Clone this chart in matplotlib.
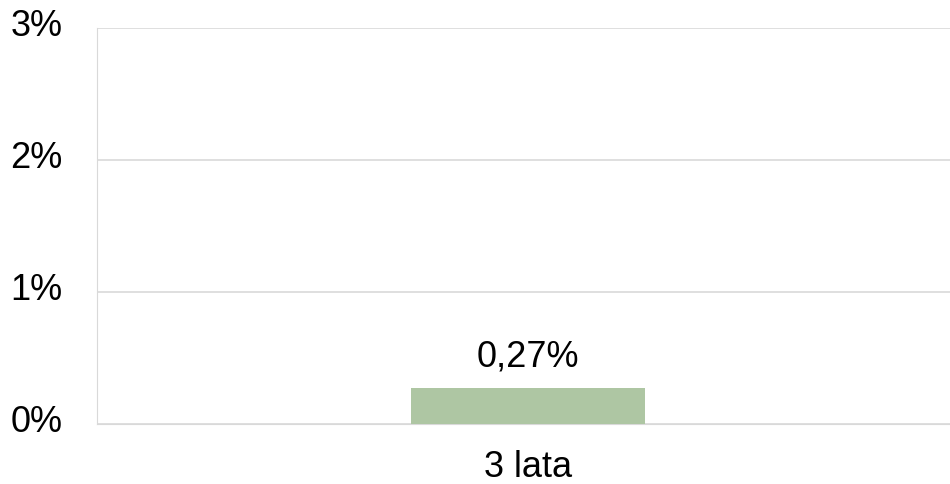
import matplotlib
matplotlib.use("Agg")
import matplotlib.pyplot as plt
import matplotlib.transforms as mtransforms
from matplotlib.ticker import FuncFormatter

categories = ["3 lata"]
values = [0.27]
labels = ["0,27%"]
yticks = [0, 1, 2, 3]

plt.rcParams['font.family'] = ['Liberation Sans', 'DejaVu Sans']

fig = plt.figure(figsize=(9.5, 4.84), dpi=100)
# plot area runs slightly past the right edge of the picture
ax = fig.add_axes([0.1021, 0.124, 0.9074, 0.818])

bars = ax.bar(range(len(categories)), values, width=0.2715, color="#AEC6A3", zorder=3)
ax.bar_label(bars, labels=labels, padding=10, fontsize=26)

ax.set_xlim(-0.5, 0.5)
ax.set_ylim(0, 3)
ax.set_yticks(yticks)
ax.yaxis.set_major_formatter(FuncFormatter(lambda v, p: f"{v:.0f}%"))
ax.set_xticks(range(len(categories)))
ax.set_xticklabels(categories)
ax.tick_params(axis="both", length=0, labelsize=26)
ax.tick_params(axis="y", pad=25)
ax.tick_params(axis="x", pad=19)
# y labels sit a little above their gridlines
shift = mtransforms.ScaledTranslation(0, 4 / 72, fig.dpi_scale_trans)
for lab in ax.get_yticklabels():
    lab.set_transform(lab.get_transform() + shift)
ax.grid(axis="y", color="#D9D9D9", linewidth=1.2, zorder=0)
for s in ["top", "right"]:
    ax.spines[s].set_visible(False)
ax.spines["left"].set_color("#D9D9D9")
ax.spines["bottom"].set_color("#D9D9D9")

fig.savefig("out.png", dpi=100)
